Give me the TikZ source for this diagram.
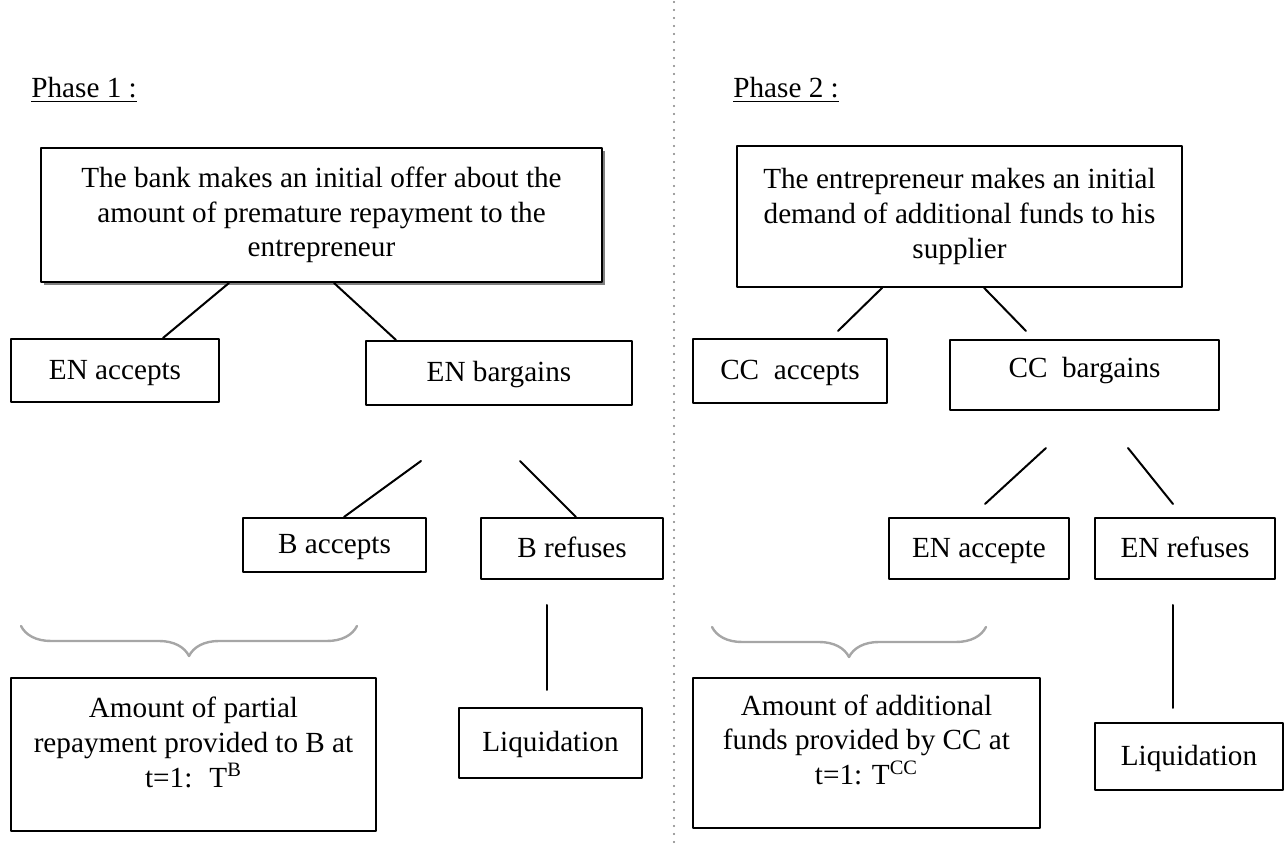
\documentclass[tikz,border=0pt]{standalone}
\usepackage{fontspec}
\setmainfont{Liberation Serif}
\usetikzlibrary{shadows, decorations.pathreplacing}

\tikzset{
  stepbox/.style={draw, line width=1pt, fill=white, inner sep=0pt, align=center},
  onebox/.style={stepbox, text height=11pt, text depth=2pt},
  link/.style={line width=1pt},
  grpbrace/.style={decorate, decoration={brace, amplitude=15pt, mirror}, draw=gray!70, line width=1.2pt},
  sepline/.style={gray, line width=1.1pt, line cap=round, dash pattern=on 0pt off 4pt},
}

\begin{document}
\begin{tikzpicture}[x=0.5pt, y=-0.5pt, line cap=round, line join=round,
                    font=\fontsize{14.6}{17.4}\selectfont]
		\useasboundingbox (0,0) rectangle (1287,849);
		
		% separation of the two phases
		\draw[sepline] (674,2) -- (674,849);
		
		%========================
		% Phase 1
		%========================
		\node[anchor=base west, inner sep=0pt] (phase1) at (31,98) {\underline{Phase 1 :}};
		
		\node[stepbox, minimum width=280.5pt, minimum height=67pt,
		      drop shadow={shadow xshift=1.3pt, shadow yshift=-1.3pt, fill=gray, opacity=1}]
		      (bank) at (321.5,215)
		      {The bank makes an initial offer about the\\ amount of premature repayment to the\\ entrepreneur};
		
		\node[onebox, minimum width=104pt, minimum height=31.5pt] (enacc) at (115,370.5) {EN accepts};
		\node[onebox, minimum width=133pt, minimum height=32pt] (enbarg) at (499,373) {EN bargains};
		\node[onebox, minimum width=91.5pt, minimum height=27pt] (bacc) at (334.5,545) {B accepts};
		\node[onebox, minimum width=91pt, minimum height=30.5pt] (bref) at (572,548.5) {B refuses};
		\node[onebox, minimum width=91.5pt, minimum height=35pt] (liqb) at (550.5,743) {Liquidation};
		\node[stepbox, minimum width=182.5pt, minimum height=76.5pt] (amountb) at (193.5,754.5)
		      {Amount of partial\\ repayment provided to B at\\ t=1:~ T\textsuperscript{B}\\[-5pt] \mbox{}};
		
		% free ends
		\coordinate (barg1) at (421,461);
		\coordinate (barg2) at (520,461);
		\coordinate (refb1) at (547,605);
		\coordinate (refb2) at (547,690);
		
		\draw[link] ([xshift=94.5pt]bank.south west) -- ([xshift=76.5pt]enacc.north west);
		\draw[link] ([xshift=147pt]bank.south west) -- ([xshift=15.5pt]enbarg.north west);
		\draw[link] (barg1) -- ([xshift=51pt]bacc.north west);
		\draw[link] (barg2) -- ([xshift=48pt]bref.north west);
		\draw[link] (refb1) -- (refb2);
		
		\draw[grpbrace] (21,626) -- (357,626);
		
		%========================
		% Phase 2
		%========================
		\node[anchor=base west, inner sep=0pt] (phase2) at (733,98) {\underline{Phase 2 :}};
		
		\node[stepbox, line width=0.9pt, minimum width=222.5pt, minimum height=70.5pt] (supplier) at (959.5,216.5)
		      {The entrepreneur makes an initial\\ demand of additional funds to his\\ supplier};
		
		\node[onebox, minimum width=97pt, minimum height=32pt] (ccacc) at (790,371) {CC~ accepts};
		\node[stepbox, text height=10pt, text depth=7.4pt, minimum width=134.5pt, minimum height=35pt] (ccbarg) at (1084.5,375) {CC~ bargains};
		\node[onebox, minimum width=90pt, minimum height=30.5pt] (enacce) at (979,548.5) {EN accepte};
		\node[onebox, minimum width=90pt, minimum height=30.5pt] (enref) at (1185,548.5) {EN refuses};
		\node[onebox, minimum width=94pt, minimum height=33.5pt] (liqcc) at (1189,756.5) {Liquidation};
		\node[stepbox, minimum width=173.5pt, minimum height=75pt] (amountcc) at (866.5,753)
		      {Amount of additional\\ funds provided by CC at\\ t=1: T\textsuperscript{CC}\\[-4pt] \mbox{}};
		
		% free ends
		\coordinate (supp1) at (838,331);
		\coordinate (supp2) at (1026,331);
		\coordinate (ccb1) at (1046,448);
		\coordinate (ccb2) at (985,504);
		\coordinate (ccb3) at (1128,448);
		\coordinate (ccb4) at (1173,504);
		\coordinate (refcc1) at (1173,605);
		\coordinate (refcc2) at (1173,708);
		
		\draw[link] ([xshift=73pt]supplier.south west) -- (supp1);
		\draw[link] ([xshift=124pt]supplier.south west) -- (supp2);
		\draw[link] (ccb1) -- (ccb2);
		\draw[link] (ccb3) -- (ccb4);
		\draw[link] (refcc1) -- (refcc2);
		
		\draw[grpbrace] (712,627) -- (986,627);
		
	\end{tikzpicture}
\end{document}
